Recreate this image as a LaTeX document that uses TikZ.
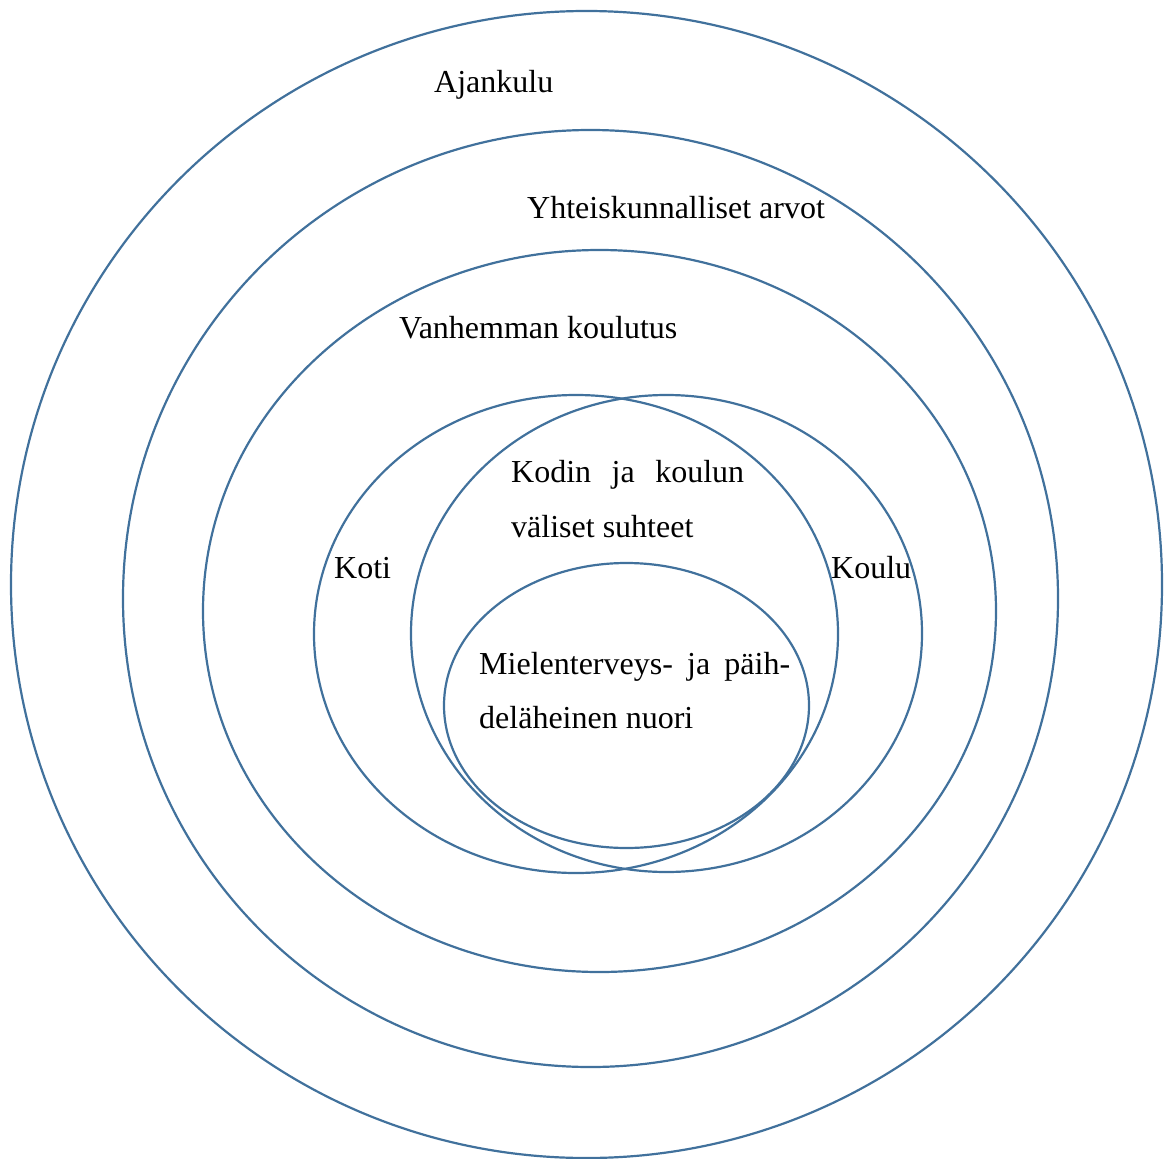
\documentclass[tikz,border=0pt]{standalone}
\usepackage{fontspec}
\setmainfont{Liberation Serif}
\usetikzlibrary{shapes.geometric}
\definecolor{ringblue}{HTML}{41719C}
\begin{document}
\begin{tikzpicture}[x=1pt,y=-1pt,
  ring/.style={ellipse,draw=ringblue,line width=2.2pt,inner sep=0pt,outer sep=0pt},
  lbl/.style={anchor=base west,inner sep=0pt,font=\fontsize{32}{38}\selectfont}]
\useasboundingbox (0,0) rectangle (1165,1159);
\node[ring,minimum width=1151pt,minimum height=1147pt] (aika) at (586.5,584.5) {};
\node[ring,minimum width=935pt,minimum height=937pt] (yht) at (590.5,598.5) {};
\node[ring,minimum width=793pt,minimum height=722pt] (vanh) at (599.5,611) {};
\node[ring,minimum width=524pt,minimum height=478pt] (koti) at (576,634) {};
\node[ring,minimum width=511pt,minimum height=477pt] (koulu) at (666.5,633.5) {};
\node[ring,minimum width=365pt,minimum height=285pt] (nuori) at (626.5,705.5) {};
\node[lbl] (tAika) at (434,92) {Ajankulu};
\node[lbl] (tYht) at (527,218) {Yhteiskunnalliset arvot};
\node[lbl] (tVanh) at (399,338) {Vanhemman koulutus};
\node[lbl] (tKK1) at (511,482) {\makebox[233pt][l]{Kodin\hfill ja\hfill koulun}};
\node[lbl] (tKK2) at (511,537) {väliset suhteet};
\node[lbl] (tKoti) at (334,578) {Koti};
\node[lbl] (tKoulu) at (831,578) {Koulu};
\node[lbl] (tN1) at (479,674) {\makebox[311pt][l]{Mielenterveys-\hfill ja\hfill päih-}};
\node[lbl] (tN2) at (479,728) {deläheinen nuori};
\end{tikzpicture}
\end{document}
